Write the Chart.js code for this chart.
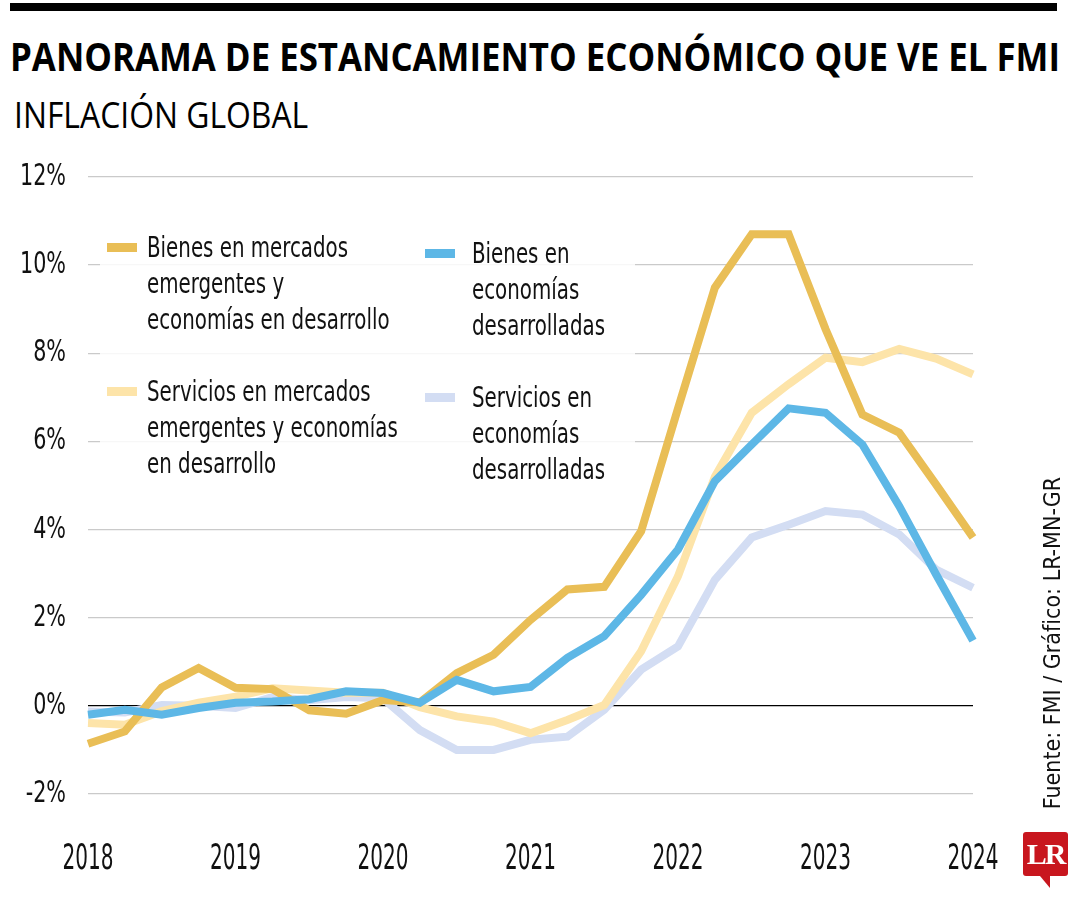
<!DOCTYPE html>
<html lang="es">
<head>
<meta charset="utf-8">
<script src="https://cdn.jsdelivr.net/npm/chart.js@4"></script>
<style>
  body { margin: 0; width: 1080px; height: 900px; position: relative; background: #fff; overflow: hidden; }
  #topbar { position: absolute; left: 10px; top: 3px; width: 1047px; height: 8px; background: #000; }
  #title, #subtitle { position: absolute; white-space: nowrap; transform-origin: left top; color: #000; line-height: 1; }
  #title { left: 10px; top: 28px; font: bold 40px 'Open Sans', sans-serif; }
  #subtitle { left: 14px; top: 90px; font: 36px 'Open Sans', sans-serif; }
  #chartBox { position: absolute; left: 0; top: 0; width: 1080px; height: 900px; }
  #legendBg { position: absolute; left: 100px; top: 226px; width: 535px; height: 262px; background: rgba(255,255,255,0.85); }
  .item { position: absolute; font: 29px 'Liberation Sans Narrow', 'DejaVu Sans Condensed', sans-serif; line-height: 36px; color: #111; }
  .item .sw { position: absolute; width: 30px; height: 9px; top: 14px; }
  .item .txt { position: absolute; white-space: nowrap; transform: scaleX(0.76); transform-origin: left top; }
  #source { position: absolute; left: 1052px; top: 643px; transform: translate(-50%, -50%) rotate(-90deg);
            font: 23px 'Liberation Sans Narrow', 'DejaVu Sans Condensed', sans-serif; white-space: nowrap; color: #111; }
  #logo { position: absolute; left: 1023px; top: 832px; width: 45px; height: 44px; background: #c8161e; border-radius: 3px;
          color: #fff; font: bold 30px 'Liberation Serif', 'DejaVu Serif', serif; text-align: center; line-height: 44px; letter-spacing: -2px; }
  #logo:after { content: ''; position: absolute; left: 17px; top: 44px; border-left: 10px solid transparent; border-top: 12px solid #c8161e; }
</style>
</head>
<body>
<div id="topbar"></div>
<div id="title">PANORAMA DE ESTANCAMIENTO ECONÓMICO QUE VE EL FMI</div>
<div id="subtitle">INFLACIÓN GLOBAL</div>
<div id="chartBox"><canvas id="myChart" width="1080" height="900"></canvas></div>
<div id="legendBg"></div>
<div id="legend"></div>
<div id="source">Fuente: FMI / Gráfico: LR-MN-GR</div>
<div id="logo">LR</div>

<script>
// quarterly points, 2018 Q1 .. 2024 Q1
const quarters = [];
for (let y = 2018; y <= 2024; y++) {
    for (let q = 1; q <= 4; q++) {
        if (y === 2024 && q > 1) break;
        quarters.push(y + '-T' + q);
    }
}

const bienesEM = [-0.86, -0.58, 0.42, 0.86, 0.41, 0.38, -0.1, -0.18, 0.13, 0.08, 0.74, 1.16, 1.95, 2.64, 2.7, 3.96, 6.75, 9.49, 10.7, 10.7, 8.55, 6.61, 6.2, 5.02, 3.82];
const serviciosEM = [-0.39, -0.43, -0.12, 0.07, 0.21, 0.4, 0.35, 0.3, 0.3, -0.03, -0.24, -0.36, -0.62, -0.32, 0.02, 1.24, 2.94, 5.2, 6.65, 7.3, 7.9, 7.8, 8.1, 7.88, 7.52];
const bienesAE = [-0.2, -0.09, -0.2, -0.05, 0.07, 0.1, 0.15, 0.33, 0.29, 0.07, 0.59, 0.33, 0.43, 1.09, 1.58, 2.52, 3.55, 5.1, 5.93, 6.75, 6.65, 5.93, 4.53, 2.98, 1.48];
const serviciosAE = [-0.13, -0.15, 0.02, 0.0, -0.05, 0.2, 0.13, 0.2, 0.17, -0.55, -1.0, -1.0, -0.77, -0.7, -0.09, 0.82, 1.35, 2.86, 3.82, 4.11, 4.42, 4.34, 3.89, 3.09, 2.68];

const seriesNames = [
    'Bienes en mercados<br>emergentes y<br>economías en desarrollo',
    'Servicios en mercados<br>emergentes y economías<br>en desarrollo',
    'Bienes en<br>economías<br>desarrolladas',
    'Servicios en<br>economías<br>desarrolladas'
];
const seriesColors = ['#e9be56', '#fde4a9', '#5db7e6', '#d3ddf3'];
const yTicks = [-2, 0, 2, 4, 6, 8, 10, 12];

const narrow = "'Liberation Sans Narrow', 'DejaVu Sans Condensed', sans-serif";

// fit the headings to the reference widths
function fitWidth(id, w) {
    const el = document.getElementById(id);
    el.style.transform = 'scaleX(' + (w / el.scrollWidth) + ')';
}
fitWidth('title', 1050);
fitWidth('subtitle', 294);

// html legend, two columns
const legendPos = [[107, 229], [107, 373], [425, 235], [425, 379]];
const legendEl = document.getElementById('legend');
seriesNames.forEach((name, i) => {
    const d = document.createElement('div');
    d.className = 'item';
    d.style.left = legendPos[i][0] + 'px';
    d.style.top = legendPos[i][1] + 'px';
    d.innerHTML = '<span class="sw" style="background:' + seriesColors[i] + '"></span>' +
        '<span class="txt" style="left:' + (i < 2 ? 40 : 47) + 'px">' + name + '</span>';
    legendEl.appendChild(d);
});

// tick labels drawn squeezed, the reference uses a condensed face
const squeezedTicks = {
    id: 'squeezedTicks',
    afterDraw(chart) {
        const c = chart.ctx;
        const xs = chart.scales.x, ys = chart.scales.y;
        c.save();
        c.fillStyle = '#111';
        c.textBaseline = 'middle';

        c.font = '31px ' + narrow;
        const ky = 46 / c.measureText('12%').width;
        c.textAlign = 'right';
        ys.ticks.forEach(t => {
            const y = ys.getPixelForValue(t.value);
            c.save();
            c.translate(66, y);
            c.scale(ky, 1);
            c.fillText(t.value + '%', 0, 0);
            c.restore();
        });

        c.font = '35px ' + narrow;
        const kx = 51 / c.measureText('2018').width;
        c.textAlign = 'center';
        quarters.forEach((q, i) => {
            if (!q.endsWith('T1')) return;
            c.save();
            c.translate(xs.getPixelForValue(i), 860);
            c.scale(kx, 1);
            c.fillText(q.slice(0, 4), 0, 0);
            c.restore();
        });
        c.restore();
    }
};

const allData = [bienesEM, serviciosEM, bienesAE, serviciosAE];
const drawOrder = [1, 2, 0, 3]; // lower = on top

const ctx = document.getElementById('myChart');
new Chart(ctx, {
    type: 'line',
    data: {
        labels: quarters,
        datasets: allData.map((d, i) => ({
            label: seriesNames[i].replace(/<br>/g, ' '),
            data: d,
            borderColor: seriesColors[i],
            borderWidth: 8,
            pointRadius: 0,
            tension: 0,
            borderCapStyle: 'butt',
            borderJoinStyle: 'miter',
            order: drawOrder[i]
        }))
    },
    options: {
        responsive: false,
        animation: false,
        layout: { padding: { top: 177, left: 0, right: 107, bottom: 0 } },
        plugins: {
            legend: { display: false },
            tooltip: { enabled: false }
        },
        scales: {
            x: {
                offset: false,
                grid: { display: false, drawTicks: false },
                border: { display: false },
                afterFit: (s) => { s.height = 106; },
                ticks: { display: false }
            },
            y: {
                min: yTicks[0],
                max: yTicks[yTicks.length - 1],
                afterFit: (s) => { s.width = 88; },
                afterBuildTicks: (s) => { s.ticks = yTicks.map(v => ({ value: v })); },
                border: { display: false },
                grid: {
                    drawTicks: false,
                    lineWidth: 1.3,
                    color: (c) => c.tick && c.tick.value === 0 ? '#000' : '#cacaca'
                },
                ticks: { display: false }
            }
        }
    },
    plugins: [squeezedTicks]
});
</script>
</body>
</html>
